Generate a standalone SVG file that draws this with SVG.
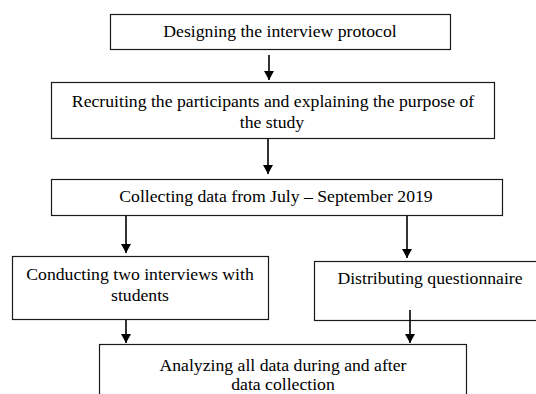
<svg xmlns="http://www.w3.org/2000/svg" width="536" height="394" viewBox="0 0 536 394">
<defs>
<marker id="ah" markerWidth="9" markerHeight="10" refX="9" refY="5" orient="auto" markerUnits="userSpaceOnUse">
<path d="M0,0 L9,5 L0,10 Z" fill="#000"/>
</marker>
<style>
.box{fill:#fff;stroke:#1a1a1a;stroke-width:1.2}
.t{font-family:"Liberation Serif","Times New Roman",serif;font-size:17.7px;fill:#000;text-anchor:middle}
.c{stroke:#000;stroke-width:1.6;fill:none;marker-end:url(#ah)}
</style>
</defs>
<rect width="536" height="394" fill="#fff"/>
<g id="n1"><rect class="box" x="110.5" y="14.5" width="340" height="35"/><text class="t" x="280" y="37">Designing the interview protocol</text></g>
<g id="n2"><rect class="box" x="51.5" y="82.5" width="443" height="56"/><text class="t" x="273" y="107">Recruiting the participants and explaining the purpose of</text><text class="t" x="272" y="128">the study</text></g>
<g id="n3"><rect class="box" x="51.5" y="179.5" width="451" height="36"/><text class="t" x="276" y="202">Collecting data from July – September 2019</text></g>
<g id="n4"><rect class="box" x="12.5" y="256.5" width="256" height="63"/><text class="t" x="140" y="280">Conducting two interviews with</text><text class="t" x="140" y="301">students</text></g>
<g id="n5"><rect class="box" x="314.5" y="261.5" width="230" height="59"/><text class="t" x="430" y="284">Distributing questionnaire</text></g>
<g id="n6"><rect class="box" x="99.5" y="344.5" width="367" height="60"/><text class="t" x="283" y="371">Analyzing all data during and after</text><text class="t" x="283" y="390">data collection</text></g>
<g id="connectors">
<line class="c" x1="269" y1="55" x2="269" y2="80"/>
<line class="c" x1="268" y1="138" x2="268" y2="174"/>
<line class="c" x1="126" y1="216" x2="126" y2="253"/>
<line class="c" x1="407" y1="216" x2="407" y2="258"/>
<line class="c" x1="126" y1="320" x2="126" y2="343"/>
<line class="c" x1="410" y1="310" x2="410" y2="343"/>
</g>
</svg>
